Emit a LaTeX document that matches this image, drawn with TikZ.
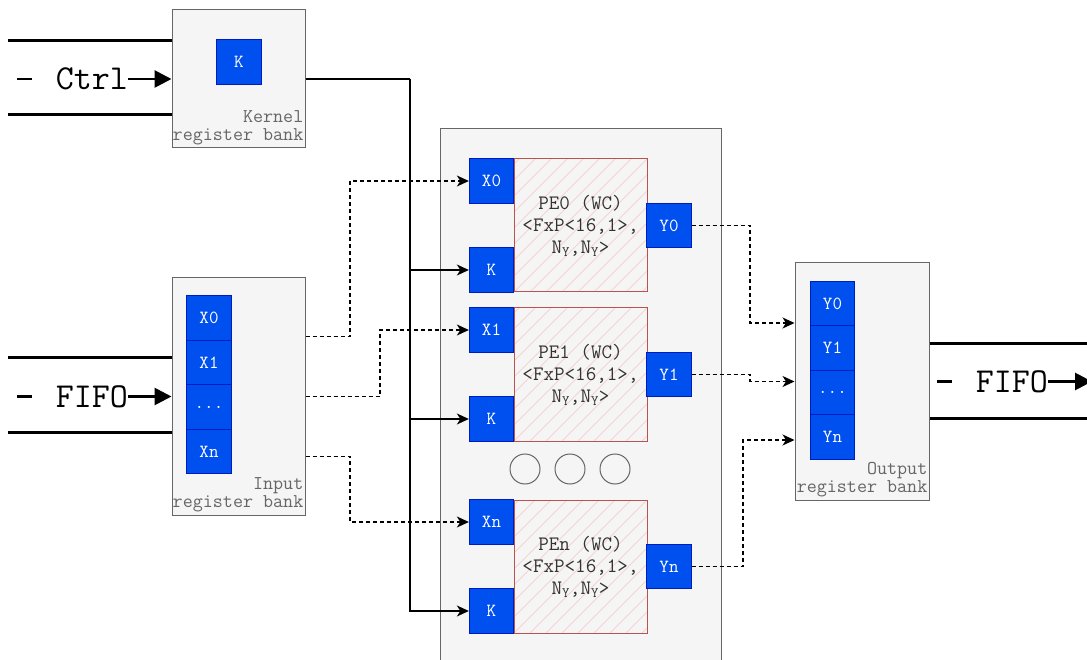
\documentclass[tikz,border=0pt]{standalone}
\usepackage{fontspec}
\usetikzlibrary{arrows.meta,calc}
\definecolor{regfill}{HTML}{0050EF}
\definecolor{regdraw}{HTML}{001DBC}
\definecolor{bankfill}{HTML}{F5F5F5}
\definecolor{bankdraw}{HTML}{666666}
\definecolor{pedraw}{HTML}{B85450}
\definecolor{hatchc}{HTML}{F5D3D2}
\definecolor{petext}{HTML}{333333}
\begin{document}
\begin{tikzpicture}[x=1pt,y=-1pt,
  reg/.style={draw=regdraw, fill=regfill, text=white, minimum width=44.5pt, minimum height=44.5pt, inner sep=0pt, font=\ttfamily\fontsize{18.5}{20}\selectfont, line width=0.8pt},
  bank/.style={draw=bankdraw, fill=bankfill, line width=1pt, inner sep=0pt},
  banklabel/.style={text=bankdraw, align=right, inner xsep=2pt, inner ysep=3pt, font=\ttfamily\fontsize{19.5}{18.5}\selectfont},
  pebox/.style={draw=pedraw, fill=bankfill, line width=1pt, minimum width=133pt, minimum height=133pt, inner sep=0pt,
    text=petext, align=center, font=\ttfamily\fontsize{20.5}{22}\selectfont,
    path picture={\foreach \i in {-10,...,9}{\draw[hatchc, line width=0.8pt] ($(path picture bounding box.south west)+(\i*16pt,0)$) -- ++(200pt,200pt);}}},
  dots/.style={circle, draw=bankdraw, line width=1pt, minimum size=30pt, inner sep=0pt},
  bus/.style={line width=3pt, black},
  bigarrow/.style={line width=2.8pt, -{Triangle[length=17pt,width=17pt]}},
  conn/.style={line width=1.5pt, -{Stealth[length=12pt,width=11pt,inset=3.5pt]}},
  dconn/.style={line width=1.3pt, dash pattern=on 4pt off 3pt, -{Stealth[length=12pt,width=11pt,inset=3.5pt]}},
  flow/.style={fill=white, inner xsep=0pt, inner ysep=2pt, text width=96pt, align=right, font=\ttfamily\fontsize{35}{36}\selectfont}
]
\clip (0,0) rectangle (1087,660);
\fill[white] (0,0) rectangle (1087,660);

% kernel bank and control
\draw[bus] (8,41) -- (172,41);
\draw[bus] (8,115) -- (172,115);
\node[bank, minimum width=133pt, minimum height=138pt] (kbank) at (238.5,79) {};
\node[reg] (kreg) at (239,62) {K};
\node[banklabel, anchor=south east] (klab) at (kbank.south east) {Kernel\\register bank};
\draw[bigarrow] (17,79) -- (kbank.west);
\node[flow] (ctrl) at (80,79) {Ctrl};

% input bank
\draw[bus] (8,357) -- (172,357);
\draw[bus] (8,432) -- (172,432);
\node[bank, minimum width=133pt, minimum height=237pt] (ibank) at (238.5,396.5) {};
\node[reg] (ix0) at (209,318) {X0};
\node[reg] (ix1) at (209,362.5) {X1};
\node[reg] (ixd) at (209,407) {...};
\node[reg] (ixn) at (209,451.5) {Xn};
\node[banklabel, anchor=south east] (ilab) at (ibank.south east) {Input\\register bank};
\draw[bigarrow] (17,396.5) -- (ibank.west);
\node[flow] (fifoin) at (80,396.5) {FIFO};

% main box
\node[bank, minimum width=281pt, minimum height=545pt] (main) at (580.5,401.5) {};

% PE0
\node[pebox] (pe0) at (580.5,225.5) {PE0 (WC)\\<FxP<16,1>,\\N\textsubscript{Y},N\textsubscript{Y}>};
\node[reg] (x0) at (491.5,181) {X0};
\node[reg] (k0) at (491.5,270) {K};
\node[reg] (y0) at (669,225.5) {Y0};
% PE1
\node[pebox] (pe1) at (580.5,374.5) {PE1 (WC)\\<FxP<16,1>,\\N\textsubscript{Y},N\textsubscript{Y}>};
\node[reg] (x1) at (491.5,330) {X1};
\node[reg] (k1) at (491.5,419) {K};
\node[reg] (y1) at (669,374.5) {Y1};
% PEn
\node[pebox] (pen) at (580.5,566.5) {PEn (WC)\\<FxP<16,1>,\\N\textsubscript{Y},N\textsubscript{Y}>};
\node[reg] (xn) at (491.5,522) {Xn};
\node[reg] (kn) at (491.5,611) {K};
\node[reg] (yn) at (669,566.5) {Yn};

\node[dots] (c1) at (525,469) {};
\node[dots] (c2) at (570,469) {};
\node[dots] (c3) at (615,469) {};

% output bank
\draw[bus] (929,343) -- (1090,343);
\draw[bus] (929,418) -- (1090,418);
\node[bank, minimum width=134pt, minimum height=237pt] (obank) at (862,381.5) {};
\node[reg] (oy0) at (832.5,303.5) {Y0};
\node[reg] (oy1) at (832.5,348) {Y1};
\node[reg] (oyd) at (832.5,392.5) {...};
\node[reg] (oyn) at (832.5,437) {Yn};
\node[banklabel, anchor=south east] (olab) at (obank.south east) {Output\\register bank};
\coordinate (fout) at (1092,381.5);
\draw[bigarrow] (937,381.5) -- (fout);
\node[flow] (fifoout) at (1000,381.5) {FIFO};

% kernel distribution
\coordinate (kx) at (410,79);
\draw[line width=1.5pt] (kbank.east) -- (kx);
\draw[conn] (kx) |- (k0.west);
\draw[conn] (kx) |- (k1.west);
\draw[conn] (kx) |- (kn.west);

% input distribution
\coordinate (d0) at (350,181);
\coordinate (d1) at (380,330);
\coordinate (dn) at (350,522);
\draw[dconn] ([yshift=60pt]ibank.east) -| (d0) -- (x0.west);
\draw[dconn] (ibank.east) -| (d1) -- (x1.west);
\draw[dconn] ([yshift=-60pt]ibank.east) -| (dn) -- (xn.west);

% output collection
\coordinate (e0) at (750,323);
\coordinate (e1) at (750,381.5);
\coordinate (en) at (743,440);
\draw[dconn] (y0.east) -| (e0) -- ([yshift=58.5pt]obank.west);
\draw[dconn] (y1.east) -| (e1) -- (obank.west);
\draw[dconn] (yn.east) -| (en) -- ([yshift=-58.5pt]obank.west);
\end{tikzpicture}
\end{document}
